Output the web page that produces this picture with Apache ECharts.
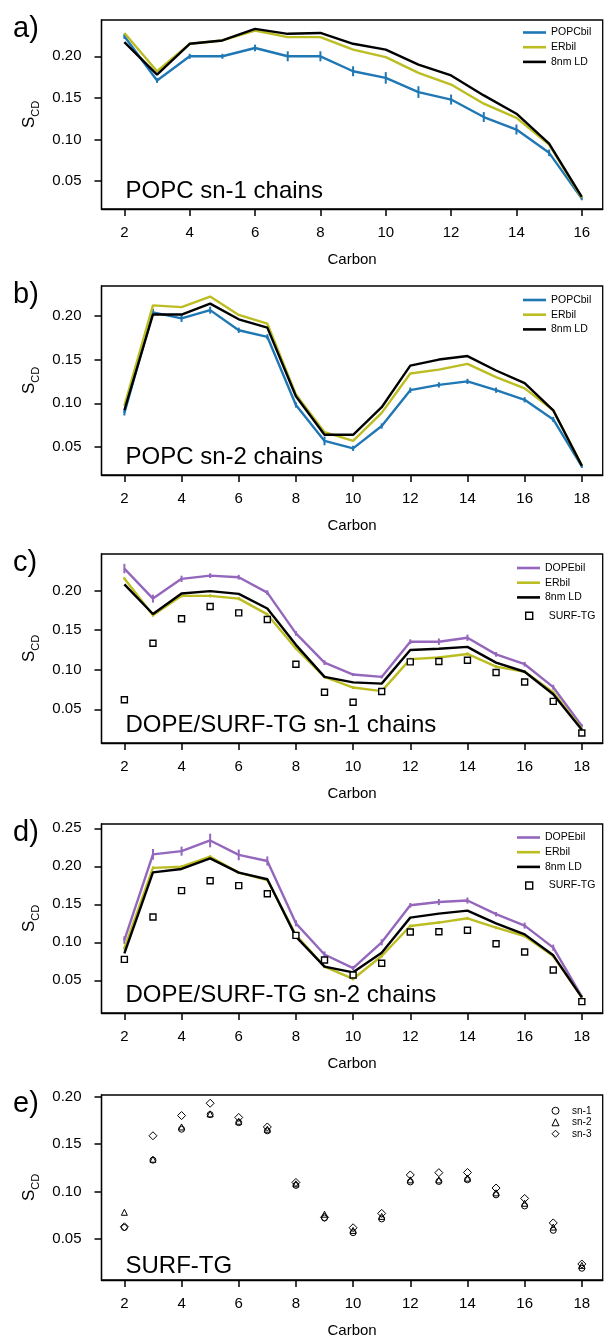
<!DOCTYPE html>
<html><head><meta charset="utf-8">
<script src="https://cdn.jsdelivr.net/npm/echarts@6/dist/echarts.min.js"></script>
<style>html,body{margin:0;padding:0;background:#fff}#c{width:604px;height:1339px}</style>
</head><body><div id="c"></div>
<script>
// ---------- data ----------
const carbonA = [2,3,4,5,6,7,8,9,10,11,12,13,14,15,16];
const carbonB = [2,3,4,5,6,7,8,9,10,11,12,13,14,15,16,17,18];
const xTicksA = [2,4,6,8,10,12,14,16];
const xTicksB = [2,4,6,8,10,12,14,16,18];
const yTicks = [0.05,0.10,0.15,0.20];
const yTicksD = [0.05,0.10,0.15,0.20,0.25];

// a) POPC sn-1
const a_POPCbil     = [0.224,0.171,0.200,0.200,0.210,0.200,0.200,0.182,0.174,0.157,0.148,0.127,0.112,0.084,0.029];
const a_POPCbil_err = [0.003,0.003,0.003,0.003,0.004,0.006,0.006,0.006,0.007,0.007,0.006,0.006,0.006,0.004,0.002];
const a_ERbil       = [0.228,0.182,0.215,0.219,0.231,0.223,0.223,0.208,0.199,0.180,0.166,0.143,0.126,0.094,0.030];
const a_LD          = [0.217,0.178,0.215,0.219,0.233,0.227,0.228,0.215,0.208,0.190,0.177,0.153,0.131,0.095,0.031];

// b) POPC sn-2
const b_POPCbil     = [0.089,0.204,0.197,0.2065,0.1835,0.176,0.098,0.057,0.0485,0.074,0.115,0.121,0.125,0.115,0.104,0.0815,0.028];
const b_POPCbil_err = [0.003,0.004,0.004,0.004,0.003,0.003,0.003,0.005,0.003,0.003,0.003,0.003,0.003,0.003,0.003,0.003,0.002];
const b_ERbil       = [0.097,0.212,0.210,0.222,0.201,0.191,0.110,0.067,0.057,0.089,0.134,0.1385,0.145,0.130,0.117,0.092,0.029];
const b_LD          = [0.092,0.2015,0.2015,0.214,0.196,0.1865,0.108,0.064,0.064,0.0955,0.143,0.150,0.154,0.1375,0.123,0.092,0.0285];

// c) DOPE/SURF-TG sn-1
const c_DOPEbil     = [0.228,0.190,0.215,0.219,0.217,0.1975,0.146,0.109,0.094,0.091,0.1355,0.1355,0.1405,0.1195,0.107,0.078,0.029];
const c_DOPEbil_err = [0.006,0.005,0.004,0.003,0.003,0.003,0.003,0.003,0.002,0.002,0.003,0.004,0.004,0.003,0.003,0.003,0.002];
const c_ERbil       = [0.2155,0.169,0.1935,0.1935,0.190,0.170,0.127,0.091,0.0775,0.073,0.1135,0.1155,0.120,0.104,0.0975,0.0715,0.025];
const c_ERbil_err   = [0.002,0.002,0.002,0.002,0.002,0.002,0.002,0.002,0.002,0.002,0.002,0.002,0.002,0.002,0.002,0.002,0.001];
const c_LD          = [0.208,0.1705,0.1965,0.1995,0.196,0.1775,0.1315,0.091,0.084,0.0825,0.125,0.1265,0.129,0.109,0.0975,0.069,0.024];
const c_SURFTG      = [0.062,0.1335,0.1645,0.180,0.172,0.1635,0.107,0.0715,0.059,0.0725,0.110,0.1105,0.112,0.0965,0.0845,0.060,0.020];

// d) DOPE/SURF-TG sn-2
const d_DOPEbil     = [0.103,0.2158,0.220,0.234,0.215,0.207,0.125,0.084,0.066,0.100,0.1487,0.153,0.155,0.137,0.122,0.093,0.0285];
const d_DOPEbil_err = [0.005,0.007,0.006,0.009,0.007,0.006,0.004,0.004,0.003,0.004,0.003,0.004,0.004,0.003,0.004,0.004,0.002];
const d_ERbil       = [0.092,0.198,0.1995,0.2127,0.1917,0.182,0.1097,0.068,0.0518,0.082,0.1215,0.126,0.1316,0.1193,0.1083,0.082,0.0276];
const d_ERbil_err   = [0.002,0.002,0.002,0.002,0.002,0.002,0.002,0.002,0.002,0.002,0.002,0.002,0.002,0.002,0.002,0.002,0.001];
const d_LD          = [0.0855,0.192,0.1965,0.2105,0.1917,0.183,0.1075,0.068,0.0605,0.0864,0.1325,0.1377,0.1417,0.125,0.1105,0.0829,0.0276];
const d_SURFTG      = [0.0776,0.1333,0.168,0.1811,0.1746,0.164,0.1092,0.0768,0.057,0.0724,0.1136,0.114,0.1158,0.0982,0.0873,0.0636,0.022];

// e) SURF-TG
const e_sn1 = [0.062,0.133,0.1656,0.181,0.1725,0.1639,0.1064,0.072,0.0565,0.071,0.110,0.1105,0.1123,0.0964,0.0847,0.059,0.019];
const e_sn2 = [0.078,0.134,0.168,0.1818,0.174,0.1656,0.108,0.076,0.0589,0.0737,0.1122,0.1122,0.114,0.0985,0.0875,0.0624,0.022];
const e_sn3 = [0.0627,0.1587,0.180,0.193,0.178,0.168,0.1095,0.0727,0.0617,0.0768,0.1174,0.1198,0.120,0.1036,0.0926,0.0668,0.0235];

// ---------- styling / layout ----------
const FONT = '"Liberation Sans", Arial, Helvetica, sans-serif';
const C_BLUE = '#1f77b4', C_OLIVE = '#bcbd22', C_BLACK = '#000000', C_PURPLE = '#9467bd';
const GRID_LEFT = 101.5, GRID_RIGHT = 1.3, GRID_H = 189;
const panels = [
  {top: 20,   ymin: 0.0165, ymax: 0.2436, xmin: 1.3, xmax: 16.64, xt: xTicksA, yt: yTicks,  letter: 'a)', label: 'POPC sn-1 chains'},
  {top: 286,  ymin: 0.018,  ymax: 0.2341, xmin: 1.2, xmax: 18.73, xt: xTicksB, yt: yTicks,  letter: 'b)', label: 'POPC sn-2 chains'},
  {top: 554,  ymin: 0.0074, ymax: 0.2464, xmin: 1.2, xmax: 18.73, xt: xTicksB, yt: yTicks,  letter: 'c)', label: 'DOPE/SURF-TG sn-1 chains'},
  {top: 824,  ymin: 0.007,  ymax: 0.2557, xmin: 1.2, xmax: 18.73, xt: xTicksB, yt: yTicksD, letter: 'd)', label: 'DOPE/SURF-TG sn-2 chains'},
  {top: 1095, ymin: 0.0066, ymax: 0.2017, xmin: 1.2, xmax: 18.73, xt: xTicksB, yt: yTicks,  letter: 'e)', label: 'SURF-TG'}
];

const grids = [], xAxes = [], yAxes = [], titles = [], legends = [], series = [];
panels.forEach((p, i) => {
  grids.push({left: GRID_LEFT, right: GRID_RIGHT, top: p.top, height: GRID_H, show: true,
    borderColor: '#000', borderWidth: 1.3, backgroundColor: 'transparent', containLabel: false});
  xAxes.push({type: 'value', gridIndex: i, min: p.xmin, max: p.xmax,
    name: 'Carbon', nameLocation: 'middle', nameGap: 43,
    nameTextStyle: {fontFamily: FONT, fontSize: 15, color: '#000'},
    axisLine: {show: true, lineStyle: {color: '#000', width: 1.3}},
    axisTick: {show: true, length: 7, inside: false, lineStyle: {color: '#000', width: 1.5}, customValues: p.xt},
    axisLabel: {show: true, margin: 16, fontFamily: FONT, fontSize: 15, color: '#000', customValues: p.xt,
      formatter: v => String(v)},
    splitLine: {show: false}});
  yAxes.push({type: 'value', gridIndex: i, min: p.ymin, max: p.ymax,
    name: '{s|S}{sub|CD}', nameLocation: 'middle', nameGap: 59, nameRotate: 90,
    nameTextStyle: {fontFamily: FONT, color: '#000',
      rich: {s: {fontFamily: FONT, fontSize: 17, color: '#000', verticalAlign: 'bottom', lineHeight: 20},
             sub: {fontFamily: FONT, fontSize: 11, color: '#000', verticalAlign: 'bottom', lineHeight: 14, padding: [0,0,-4,0]}}},
    axisLine: {show: true, lineStyle: {color: '#000', width: 1.3}},
    axisTick: {show: true, length: 7, inside: false, lineStyle: {color: '#000', width: 1.5}, customValues: p.yt},
    axisLabel: {show: true, margin: 20, fontFamily: FONT, fontSize: 15, color: '#000', customValues: p.yt,
      formatter: v => v.toFixed(2)},
    splitLine: {show: false}});
  titles.push({text: p.letter, left: 8, top: p.top - 11,
    textStyle: {fontFamily: FONT, fontSize: 29, fontWeight: 'normal', color: '#000'}});
  titles.push({text: p.label, left: GRID_LEFT + 19, top: p.top + 154,
    textStyle: {fontFamily: FONT, fontSize: 24, fontWeight: 'normal', color: '#000'}});
});

function lineSeries(name, gi, xs, ys, color, z) {
  return {type: 'line', name, xAxisIndex: gi, yAxisIndex: gi, symbol: 'none', z,
    lineStyle: {color, width: 2.4}, itemStyle: {color},
    data: xs.map((x, k) => [x, ys[k]]), animation: false};
}
function errSeries(name, gi, xs, ys, es, color, z) {
  return {type: 'custom', name, xAxisIndex: gi, yAxisIndex: gi, z,
    renderItem: (params, api) => {
      const p1 = api.coord([api.value(0), api.value(1)]);
      const p2 = api.coord([api.value(0), api.value(2)]);
      return {type: 'line', shape: {x1: p1[0], y1: p1[1], x2: p2[0], y2: p2[1]},
        style: {stroke: color, lineWidth: 2}};
    },
    encode: {x: 0, y: [1, 2]},
    data: xs.map((x, k) => [x, ys[k] - es[k], ys[k] + es[k]]), animation: false};
}
function scatterSeries(name, gi, xs, ys, symbol, size, fill, bw, z) {
  return {type: 'scatter', name, xAxisIndex: gi, yAxisIndex: gi, symbol, symbolSize: size, z,
    itemStyle: {color: fill, borderColor: '#000', borderWidth: bw, opacity: 1},
    data: xs.map((x, k) => [x, ys[k]]), animation: false};
}

// a
series.push(errSeries('POPCbil_err', 0, carbonA, a_POPCbil, a_POPCbil_err, C_BLUE, 2));
series.push(lineSeries('POPCbil', 0, carbonA, a_POPCbil, C_BLUE, 2));
series.push(lineSeries('ERbil', 0, carbonA, a_ERbil, C_OLIVE, 3));
series.push(lineSeries('8nm LD', 0, carbonA, a_LD, C_BLACK, 4));
// b
series.push(errSeries('POPCbil_err', 1, carbonB, b_POPCbil, b_POPCbil_err, C_BLUE, 2));
series.push(lineSeries('POPCbil', 1, carbonB, b_POPCbil, C_BLUE, 2));
series.push(lineSeries('ERbil', 1, carbonB, b_ERbil, C_OLIVE, 3));
series.push(lineSeries('8nm LD', 1, carbonB, b_LD, C_BLACK, 4));
// c
series.push(errSeries('DOPEbil_err', 2, carbonB, c_DOPEbil, c_DOPEbil_err, C_PURPLE, 2));
series.push(lineSeries('DOPEbil', 2, carbonB, c_DOPEbil, C_PURPLE, 2));
series.push(errSeries('ERbil_err', 2, carbonB, c_ERbil, c_ERbil_err, C_OLIVE, 3));
series.push(lineSeries('ERbil', 2, carbonB, c_ERbil, C_OLIVE, 3));
series.push(lineSeries('8nm LD', 2, carbonB, c_LD, C_BLACK, 4));
series.push(scatterSeries('SURF-TG', 2, carbonB, c_SURFTG, 'rect', 6, '#ffffff', 1.4, 5));
// d
series.push(errSeries('DOPEbil_err', 3, carbonB, d_DOPEbil, d_DOPEbil_err, C_PURPLE, 2));
series.push(lineSeries('DOPEbil', 3, carbonB, d_DOPEbil, C_PURPLE, 2));
series.push(errSeries('ERbil_err', 3, carbonB, d_ERbil, d_ERbil_err, C_OLIVE, 3));
series.push(lineSeries('ERbil', 3, carbonB, d_ERbil, C_OLIVE, 3));
series.push(lineSeries('8nm LD', 3, carbonB, d_LD, C_BLACK, 4));
series.push(scatterSeries('SURF-TG', 3, carbonB, d_SURFTG, 'rect', 6, '#ffffff', 1.4, 5));
// e
series.push(scatterSeries('sn-1', 4, carbonB, e_sn1, 'circle', 6, 'rgba(255,255,255,0)', 1, 5));
series.push(scatterSeries('sn-2', 4, carbonB, e_sn2, 'triangle', 6, 'rgba(255,255,255,0)', 1, 5));
series.push(scatterSeries('sn-3', 4, carbonB, e_sn3, 'diamond', 8, 'rgba(255,255,255,0)', 1, 5));

const legText = {fontFamily: FONT, fontSize: 10.5, color: '#000', lineHeight: 12};
function lineLegend(names, colors, left, top) {
  return {orient: 'vertical', left, top, itemWidth: 23, itemHeight: 2.6, itemGap: 2.7,
    selectedMode: false, textStyle: legText, padding: 0,
    data: names.map((n, k) => ({name: n, icon: 'rect', itemStyle: {color: colors[k], borderWidth: 0}}))};
}
legends.push(lineLegend(['POPCbil','ERbil','8nm LD'], [C_BLUE, C_OLIVE, C_BLACK], 523, 26.5));
legends.push(lineLegend(['POPCbil','ERbil','8nm LD'], [C_BLUE, C_OLIVE, C_BLACK], 523, 294));
legends.push(lineLegend(['DOPEbil','ERbil','8nm LD'], [C_PURPLE, C_OLIVE, C_BLACK], 517, 562));
legends.push({orient: 'vertical', left: 525, top: 609.8, itemWidth: 7, itemHeight: 7, selectedMode: false, padding: 0,
  textStyle: Object.assign({}, legText, {padding: [0,0,0,11]}),
  data: [{name: 'SURF-TG', icon: 'rect', itemStyle: {color: '#fff', borderColor: '#000', borderWidth: 1.4}}]});
legends.push(lineLegend(['DOPEbil','ERbil','8nm LD'], [C_PURPLE, C_OLIVE, C_BLACK], 517, 831.5));
legends.push({orient: 'vertical', left: 525, top: 879.5, itemWidth: 7, itemHeight: 7, selectedMode: false, padding: 0,
  textStyle: Object.assign({}, legText, {padding: [0,0,0,11]}),
  data: [{name: 'SURF-TG', icon: 'rect', itemStyle: {color: '#fff', borderColor: '#000', borderWidth: 1.4}}]});
legends.push({orient: 'vertical', left: 551.5, top: 1105, itemWidth: 7, itemHeight: 7, itemGap: 0, selectedMode: false, padding: 0,
  textStyle: Object.assign({}, legText, {fontSize: 10, lineHeight: 11.5, padding: [0,0,0,8]}),
  data: [
    {name: 'sn-1', icon: 'circle', itemStyle: {color: 'rgba(255,255,255,0)', borderColor: '#000', borderWidth: 1}},
    {name: 'sn-2', icon: 'triangle', itemStyle: {color: 'rgba(255,255,255,0)', borderColor: '#000', borderWidth: 1}},
    {name: 'sn-3', icon: 'diamond', itemStyle: {color: 'rgba(255,255,255,0)', borderColor: '#000', borderWidth: 1}}
  ]});

const chart = echarts.init(document.getElementById('c'), null, {renderer: 'canvas'});
chart.setOption({
  animation: false,
  backgroundColor: '#ffffff',
  textStyle: {fontFamily: FONT},
  grid: grids, xAxis: xAxes, yAxis: yAxes, title: titles, legend: legends, series: series
});
</script></body></html>
